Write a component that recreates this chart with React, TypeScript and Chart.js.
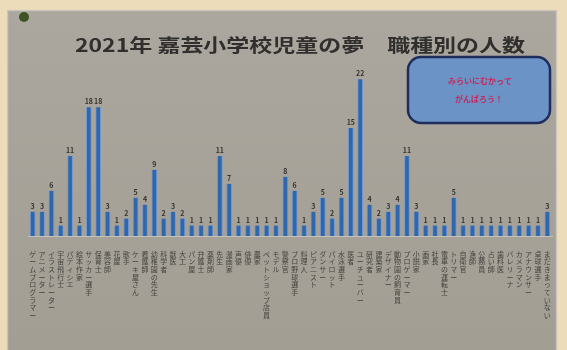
import React, { useEffect, useRef } from "react";
import { Chart, registerables } from "chart.js";

Chart.register(...registerables);

const TITLE = "2021年 嘉芸小学校児童の夢　職種別の人数";
const NOTE_LINES = ["みらいにむかって", "がんばろう！"];

const categories = [
  "ゲームプログラマー", "アニメーター", "イラストレーター", "宇宙飛行士", "パティシエ",
  "絵本作家", "サッカー選手", "保育士", "美容師", "花屋",
  "歌手", "ケーキ屋さん", "看護師", "幼稚園の先生", "科学者",
  "獣医", "大工", "パン屋", "弁護士", "薬剤師",
  "先生", "漫画家", "声優", "俳優", "農家",
  "ペットショップ店員", "モデル", "警察官", "プロ野球選手", "料理人",
  "ピアニスト", "ダンサー", "パイロット", "水泳選手", "医者",
  "ユーチューバー", "研究者", "建築家", "デザイナー", "動物園の飼育員",
  "プロゲーマー", "小説家", "画家", "社長", "電車の運転士",
  "トリマー", "自衛官", "漁師", "公務員", "占い師",
  "歯科医", "バレリーナ", "カメラマン", "アナウンサー", "卓球選手",
  "まだきまっていない",
];

const counts = [
  3, 3, 6, 1, 11, 1, 18, 18, 3, 1,
  2, 5, 4, 9, 2, 3, 2, 1, 1, 1,
  11, 7, 1, 1, 1, 1, 1, 8, 6, 1,
  3, 5, 2, 5, 15, 22, 4, 2, 3, 4,
  11, 3, 1, 1, 1, 5, 1, 1, 1, 1,
  1, 1, 1, 1, 1, 3,
];

const Y_MIN = -0.5;
const Y_MAX = 24.2;

const backdropPlugin = {
  id: "backdrop",
  beforeDraw(chart: any) {
    const ctx = chart.ctx as CanvasRenderingContext2D;
    const W = chart.width;
    const H = chart.height;
    ctx.save();
    ctx.fillStyle = "#ecdcb9";
    ctx.fillRect(0, 0, W, H);
    const g = ctx.createLinearGradient(0, 10, 0, H);
    g.addColorStop(0, "#aba79e");
    g.addColorStop(1, "#a29e94");
    ctx.fillStyle = g;
    ctx.fillRect(7, 10, 550, H - 10);
    ctx.strokeStyle = "rgba(215,210,200,0.7)";
    ctx.lineWidth = 1.5;
    ctx.strokeRect(7.5, 10.5, 549, H - 9);
    ctx.fillStyle = "#3b5326";
    ctx.beginPath();
    ctx.arc(24, 17, 5, 0, Math.PI * 2);
    ctx.fill();
    ctx.fillStyle = "#302f2e";
    ctx.font = "bold 18px 'Noto Sans CJK JP'";
    const tw = ctx.measureText(TITLE).width;
    ctx.translate(300, 45);
    ctx.scale(450 / tw, 1);
    ctx.textAlign = "center";
    ctx.textBaseline = "middle";
    ctx.fillText(TITLE, 0, 0);
    ctx.restore();

    ctx.save();
    ctx.beginPath();
    (ctx as any).roundRect(408, 57, 142, 66, 13);
    ctx.fillStyle = "#6b93c6";
    ctx.fill();
    ctx.lineWidth = 2.5;
    ctx.strokeStyle = "#1f2d5c";
    ctx.stroke();
    ctx.fillStyle = "#c42a5e";
    ctx.font = "bold 8px 'Noto Sans CJK JP'";
    ctx.textAlign = "center";
    ctx.textBaseline = "middle";
    ctx.fillText(NOTE_LINES[0], 480, 81);
    ctx.fillText(NOTE_LINES[1], 479, 99);
    ctx.restore();
  },
};

const valueLabelPlugin = {
  id: "valueLabels",
  afterDatasetsDraw(chart: any) {
    const ctx = chart.ctx as CanvasRenderingContext2D;
    const meta = chart.getDatasetMeta(0);
    ctx.save();
    ctx.fillStyle = "#34332f";
    ctx.font = "bold 7px 'Noto Sans CJK JP'";
    ctx.textAlign = "center";
    ctx.textBaseline = "bottom";
    meta.data.forEach((bar: any, i: number) => {
      ctx.fillText(String(counts[i]), bar.x, bar.y - 2);
    });
    ctx.restore();
  },
};

export default function App() {
  const ref = useRef<HTMLCanvasElement | null>(null);

  useEffect(() => {
    if (!ref.current) return;
    const chart = new Chart(ref.current, {
      type: "bar",
      data: {
        labels: categories.map((s) => Array.from(s)),
        datasets: [
          {
            data: counts,
            base: Y_MIN,
            backgroundColor: "#2f67ae",
            borderColor: "rgba(110,150,205,0.9)",
            borderWidth: { left: 1, right: 1, top: 0, bottom: 0 },
            barThickness: 5,
          } as any,
        ],
      },
      options: {
        responsive: false,
        animation: false,
        devicePixelRatio: 1,
        layout: { padding: { left: 28, right: 15, top: 64, bottom: 0 } },
        plugins: {
          legend: { display: false },
          title: { display: false },
          tooltip: { enabled: false },
        },
        scales: {
          y: {
            display: false,
            min: Y_MIN,
            max: Y_MAX,
          },
          x: {
            grid: { display: false },
            border: { display: true, color: "rgba(205,202,195,0.8)", width: 1 },
            afterFit: (s: any) => {
              s.height = 114;
            },
            ticks: {
              autoSkip: false,
              maxRotation: 0,
              minRotation: 0,
              padding: 6,
              color: "#45433f",
              font: { size: 7, family: "'Noto Sans CJK JP'", lineHeight: 1.1 },
            },
          },
        },
      },
      plugins: [backdropPlugin, valueLabelPlugin],
    });
    return () => chart.destroy();
  }, []);

  return (
    <div style={{ position: "fixed", left: 0, top: 0, width: 567, height: 350 }}>
      <canvas ref={ref} width={567} height={350} style={{ display: "block" }} />
    </div>
  );
}
